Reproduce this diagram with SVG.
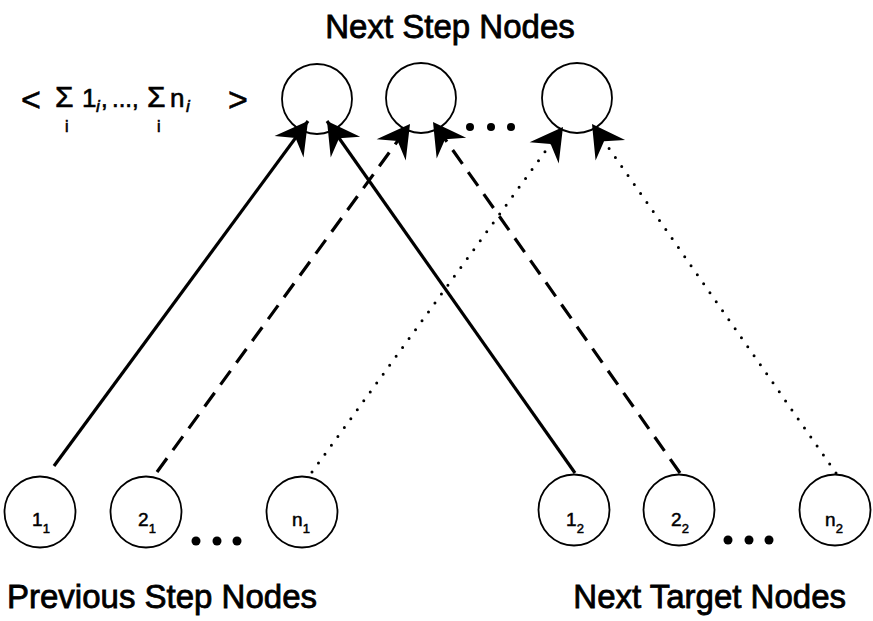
<svg xmlns="http://www.w3.org/2000/svg" width="873" height="621" viewBox="0 0 873 621">
  <style>
    .node { fill: #fff; stroke: #000; stroke-width: 1.8; }
    .lbl { font-family: "Liberation Sans", Arial, sans-serif; font-size: 19px; fill: #000; stroke: #000; stroke-width: 0.5; }
    .sub { font-size: 13px; }
    .title { font-family: "Liberation Sans", Arial, sans-serif; font-size: 33px; fill: #000; stroke: #000; stroke-width: 0.8; }
    .math { font-family: "Liberation Sans", Arial, sans-serif; fill: #000; stroke: #000; stroke-width: 0.6; }
    .edge { fill: none; stroke: #000; stroke-width: 3.2; }
    .dash { stroke-dasharray: 17 10; }
    .dot { stroke-width: 3; stroke-linecap: round; stroke-dasharray: 0 11; }
    .ellipsis { fill: #000; }
  </style>
  <defs>
    <!-- barbed arrowhead, tip at origin, pointing along +x -->
    <marker id="head" markerUnits="userSpaceOnUse" viewBox="-38 -22 42 44" markerWidth="42" markerHeight="44" refX="0" refY="0" orient="auto">
      <path d="M0,0 L-32,-18 L-21,0 L-32,18 Z" fill="#000"/>
    </marker>
  </defs>

  <!-- captions -->
  <text class="title" x="450" y="38" text-anchor="middle">Next Step Nodes</text>
  <text class="title" x="7" y="608">Previous Step Nodes</text>
  <text class="title" x="846" y="608" text-anchor="end">Next Target Nodes</text>

  <!-- aggregated vector label -->
  <g id="sum-label" class="math">
    <text x="21" y="111" font-size="34">&lt;</text>
    <text x="55" y="107" font-size="30">Σ</text>
    <text x="65" y="132" font-size="16">i</text>
    <text x="82" y="107" font-size="26">1</text>
    <text x="96" y="112" font-size="17" font-style="italic">i</text>
    <text x="101" y="107" font-size="24">,</text>
    <text x="112" y="107" font-size="24">...,</text>
    <text x="147" y="107" font-size="30">Σ</text>
    <text x="157" y="132" font-size="16">i</text>
    <text x="170" y="107" font-size="26">n</text>
    <text x="186" y="112" font-size="17" font-style="italic">i</text>
    <text x="228" y="111" font-size="34">&gt;</text>
  </g>

  <!-- next step nodes -->
  <g id="next-1"><circle class="node" cx="317" cy="99" r="35"/></g>
  <g id="next-2"><circle class="node" cx="421" cy="98" r="35"/></g>
  <g id="next-n"><circle class="node" cx="577" cy="98" r="35"/></g>

  <!-- previous step nodes -->
  <g id="prev-1"><circle class="node" cx="40" cy="512" r="35.5"/><text class="lbl" x="41" y="526" text-anchor="middle">1<tspan class="sub" dy="7">1</tspan></text></g>
  <g id="prev-2"><circle class="node" cx="146" cy="512" r="35.5"/><text class="lbl" x="147" y="526" text-anchor="middle">2<tspan class="sub" dy="7">1</tspan></text></g>
  <g id="prev-n"><circle class="node" cx="302" cy="512" r="35.5"/><text class="lbl" x="301" y="526" text-anchor="middle">n<tspan class="sub" dy="7">1</tspan></text></g>

  <!-- next target nodes -->
  <g id="target-1"><circle class="node" cx="574" cy="510" r="35.5"/><text class="lbl" x="575" y="526" text-anchor="middle">1<tspan class="sub" dy="7">2</tspan></text></g>
  <g id="target-2"><circle class="node" cx="679" cy="510" r="35.5"/><text class="lbl" x="680" y="526" text-anchor="middle">2<tspan class="sub" dy="7">2</tspan></text></g>
  <g id="target-n"><circle class="node" cx="835" cy="510" r="35.5"/><text class="lbl" x="834" y="526" text-anchor="middle">n<tspan class="sub" dy="7">2</tspan></text></g>

  <!-- connectors, drawn over the node outlines so the heads overlap them -->
  <g id="edges">
    <line class="edge" x1="54" y1="466" x2="308" y2="121" marker-end="url(#head)"/>
    <line class="edge" x1="575" y1="473" x2="327" y2="121" marker-end="url(#head)"/>
    <line class="edge dash" x1="157" y1="472" x2="410" y2="124" marker-end="url(#head)"/>
    <line class="edge dash" x1="680" y1="473" x2="433" y2="122" marker-end="url(#head)"/>
    <line class="edge dot" x1="312" y1="472" x2="563" y2="127" marker-end="url(#head)"/>
    <line class="edge dot" x1="836" y1="473" x2="592" y2="124" marker-end="url(#head)"/>
  </g>

  <!-- ellipses between nodes -->
  <g id="ellipsis-top" class="ellipsis">
    <circle cx="470" cy="127" r="4"/><circle cx="491" cy="127" r="4"/><circle cx="511" cy="127" r="4"/>
  </g>
  <g id="ellipsis-prev" class="ellipsis">
    <circle cx="196" cy="541" r="4.5"/><circle cx="217" cy="541" r="4.5"/><circle cx="237" cy="541" r="4.5"/>
  </g>
  <g id="ellipsis-target" class="ellipsis">
    <circle cx="728" cy="540" r="4.5"/><circle cx="749" cy="540" r="4.5"/><circle cx="769" cy="540" r="4.5"/>
  </g>
</svg>
